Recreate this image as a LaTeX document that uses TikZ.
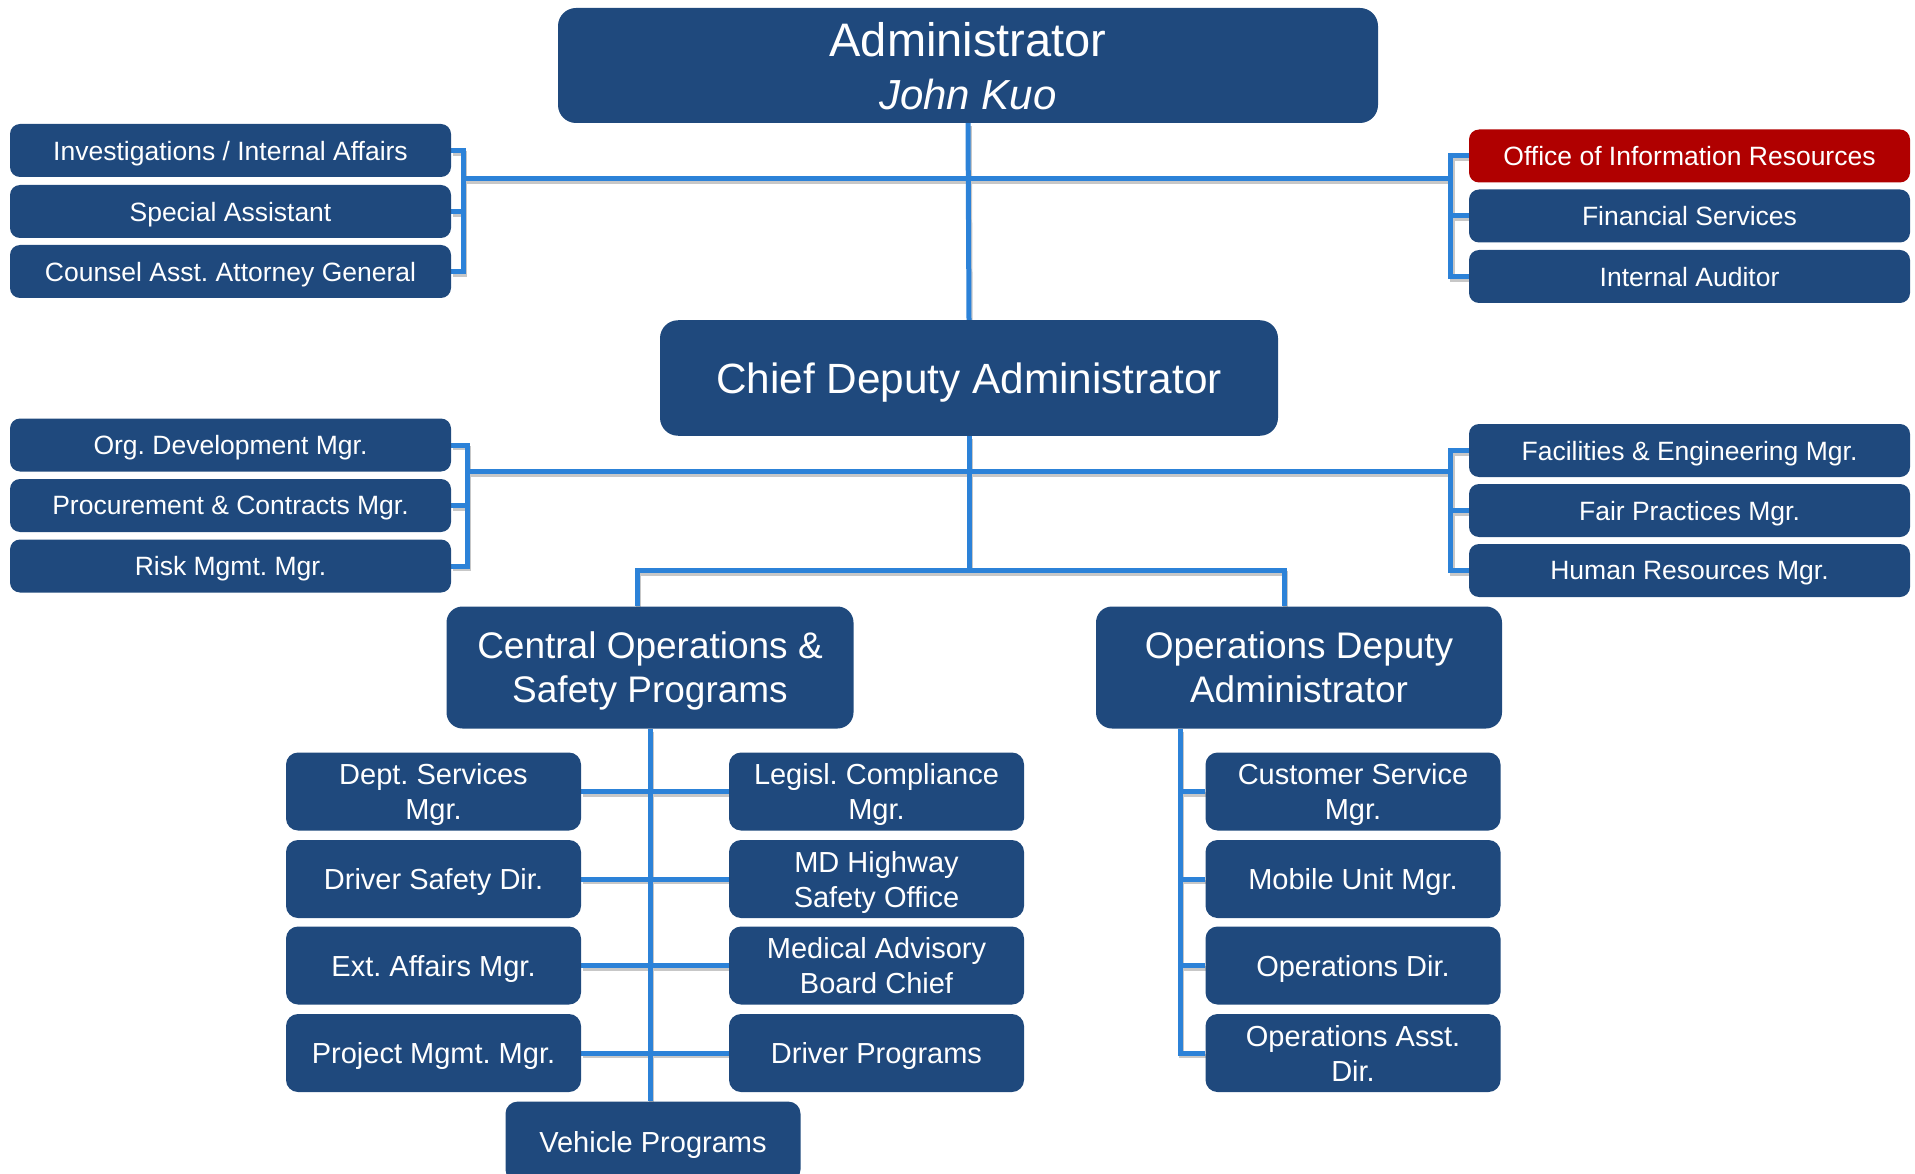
\documentclass[tikz,border=0pt]{standalone}
\usepackage{fontspec}
\setmainfont{Liberation Sans}
\usetikzlibrary{backgrounds}
\frenchspacing
\definecolor{boxblue}{HTML}{1F497D}
\definecolor{linkblue}{HTML}{2C82D8}
\definecolor{boxred}{HTML}{B00000}
\tikzset{
  basebox/.style={fill=boxblue, text=white, align=center, inner sep=0pt, text depth=0pt},
  bigbox/.style={basebox, rounded corners=18pt},
  sidebox/.style={basebox, rounded corners=10pt, minimum width=441pt, minimum height=53pt,
    font=\fontsize{26.5}{32}\selectfont},
  subbox/.style={basebox, rounded corners=12pt, minimum width=295pt, minimum height=78pt,
    font=\fontsize{29}{35}\selectfont},
  conn/.style={draw=linkblue, line width=5pt, line join=miter},
  shade/.style={draw=black!22, line width=4.5pt, line join=miter,
    transform canvas={shift={(1.5pt,-3pt)}}},
}
\newcommand\orgconnectors[1]{%
  % Administrator level
  \draw[#1] (admin.south) -- (chief.north);
  \draw[#1] (inv.east) -- ++(12.5,0) |- (counsel.east);
  \draw[#1] (special.east) -- ++(12.5,0);
  \draw[#1] (office.west) -- ++(-18,0) |- (internal.west);
  \draw[#1] (financial.west) -- ++(-18,0);
  \draw[#1] (lb1) -- (rb1);
  % Chief deputy level
  \draw[#1] (chief.south) -- (hub);
  \draw[#1] (org.east) -- ++(16,0) |- (risk.east);
  \draw[#1] (proc.east) -- ++(16,0);
  \draw[#1] (facil.west) -- ++(-18,0) |- (hr.west);
  \draw[#1] (fair.west) -- ++(-18,0);
  \draw[#1] (lb2) -- (rb2);
  \draw[#1] (central.north -| cj) -- (cj) -- (oj) -- (opsdep.north -| oj);
  % Central operations
  \draw[#1] (central.south) -- (central.south |- vehicle.north);
  \draw[#1] (dept.east) -- (legis.west);
  \draw[#1] (dsafe.east) -- (mdhw.west);
  \draw[#1] (extaff.east) -- (medadv.west);
  \draw[#1] (projm.east) -- (drvprog.west);
  % Operations deputy
  \draw[#1] (opsdep.south -| ox) |- (opsasst.west);
  \draw[#1] (custsvc.west) -- (custsvc.west -| ox);
  \draw[#1] (mobile.west) -- (mobile.west -| ox);
  \draw[#1] (opsdir.west) -- (opsdir.west -| ox);
}
\begin{document}
\begin{tikzpicture}[x=1pt, y=-1pt]
\useasboundingbox (0,0) rectangle (1915,1174);
\clip (0,0) rectangle (1915,1174);

% top level
\node[bigbox, minimum width=820pt, minimum height=115pt, font=\fontsize{47}{53}\selectfont] (admin) at (968,65.5)
  {Administrator\\{\fontsize{42}{53}\selectfont\itshape John Kuo}};
\node[sidebox] (inv) at (230.5,150.5) {Investigations / Internal Affairs};
\node[sidebox] (special) at (230.5,211.5) {Special Assistant};
\node[sidebox] (counsel) at (230.5,271.5) {Counsel Asst. Attorney General};
\node[sidebox, fill=boxred] (office) at (1689.5,156) {Office of Information Resources};
\node[sidebox] (financial) at (1689.5,216) {Financial Services};
\node[sidebox] (internal) at (1689.5,276.5) {Internal Auditor};

% chief deputy level
\node[bigbox, minimum width=618pt, minimum height=115.5pt, font=\fontsize{42.3}{50}\selectfont]
  (chief) at (969,378) {Chief Deputy Administrator};
\node[sidebox] (org) at (230.5,445) {Org. Development Mgr.};
\node[sidebox] (proc) at (230.5,505.5) {Procurement \& Contracts Mgr.};
\node[sidebox] (risk) at (230.5,566) {Risk Mgmt. Mgr.};
\node[sidebox] (facil) at (1689.5,450.5) {Facilities \& Engineering Mgr.};
\node[sidebox] (fair) at (1689.5,510.5) {Fair Practices Mgr.};
\node[sidebox] (hr) at (1689.5,570.5) {Human Resources Mgr.};

% deputies
\node[bigbox, rounded corners=16pt, minimum width=407pt, minimum height=122pt,
  font=\fontsize{37}{44}\selectfont] (central) at (650,667.5) {Central Operations \&\\Safety Programs};
\node[bigbox, rounded corners=16pt, minimum width=406pt, minimum height=122pt,
  font=\fontsize{37}{44}\selectfont] (opsdep) at (1299,667.5) {Operations Deputy\\Administrator};

% central operations units
\node[subbox] (dept) at (433.5,791.5) {Dept. Services\\Mgr.};
\node[subbox] (dsafe) at (433.5,879) {Driver Safety Dir.};
\node[subbox] (extaff) at (433.5,965.5) {Ext. Affairs Mgr.};
\node[subbox] (projm) at (433.5,1053) {Project Mgmt. Mgr.};
\node[subbox] (legis) at (876.5,791.5) {Legisl. Compliance\\Mgr.};
\node[subbox] (mdhw) at (876.5,879) {MD Highway\\Safety Office};
\node[subbox] (medadv) at (876.5,965.5) {Medical Advisory\\Board Chief};
\node[subbox] (drvprog) at (876.5,1053) {Driver Programs};
\node[subbox, minimum height=80pt] (vehicle) at (653,1141.6) {Vehicle Programs};

% operations units
\node[subbox] (custsvc) at (1353,791.5) {Customer Service\\Mgr.};
\node[subbox] (mobile) at (1353,879) {Mobile Unit Mgr.};
\node[subbox] (opsdir) at (1353,965.5) {Operations Dir.};
\node[subbox] (opsasst) at (1353,1053) {Operations Asst.\\Dir.};

% junction points
\coordinate (lb1) at (463.5,178.5);
\coordinate (rb1) at (1451,178.5);
\coordinate (lb2) at (467,471.5);
\coordinate (rb2) at (1451,471.5);
\coordinate (hub) at (969,570.5);
\coordinate (cj) at (637,570.5);
\coordinate (oj) at (1284,570.5);
\coordinate (ox) at (1180,0);

\begin{scope}[on background layer]
  \orgconnectors{shade}
  \orgconnectors{conn}
\end{scope}
\end{tikzpicture}
\end{document}
